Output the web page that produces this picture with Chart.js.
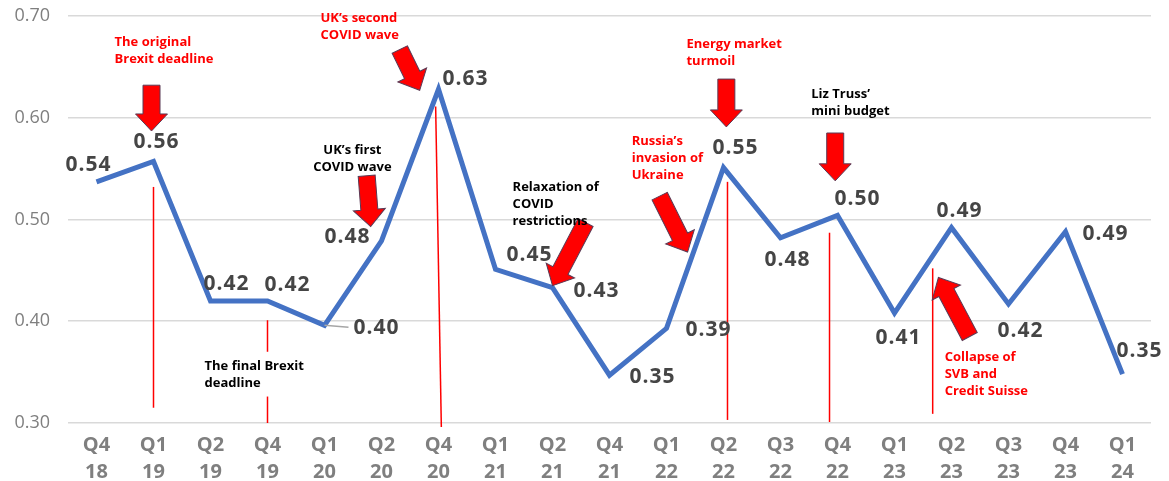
<!DOCTYPE html>
<html>
<head>
<meta charset="utf-8">
<script src="https://cdn.jsdelivr.net/npm/chart.js@4"></script>
<style>
  html, body { margin: 0; padding: 0; background: #fff; }
  #wrap { width: 1169px; height: 481px; }
</style>
</head>
<body>
<div id="wrap"><canvas id="chart" width="1169" height="481"></canvas></div>
<script>
// Quarters on the x axis (two-line labels)
const quarters = [
    ["Q4", "18"], ["Q1", "19"], ["Q2", "19"], ["Q4", "19"], ["Q1", "20"],
    ["Q2", "20"], ["Q4", "20"], ["Q1", "21"], ["Q2", "21"], ["Q4", "21"],
    ["Q1", "22"], ["Q2", "22"], ["Q3", "22"], ["Q4", "22"], ["Q1", "23"],
    ["Q2", "23"], ["Q3", "23"], ["Q4", "23"], ["Q1", "24"]
];

// Series values
const values = [
    0.537, 0.557, 0.420, 0.420, 0.396, 0.479, 0.628, 0.451, 0.433, 0.347,
    0.393, 0.551, 0.482, 0.504, 0.408, 0.492, 0.417, 0.488, 0.348
];

// y axis ticks
const yTicks = [0.30, 0.40, 0.50, 0.60, 0.70];

// label offsets from each point (px)
const labelOffsets = [
    [-8, -17], [3, -19], [16, -17], [20, -16], [52, 3], [-34, -4], [27, -10],
    [34, -14], [44, 3], [43, 2], [42, 2], [12, -20], [7, 22], [20, -16],
    [4, 25], [8, -17], [12, 27], [40, 2], [17, -23]
];

// red vertical marker lines: [x index top, value top, x index bottom, value bottom]
const markerLines = [
    [1, 0.532, 1, 0.315],
    [3, 0.401, 3, 0.370],
    [3, 0.326, 3, 0.300],
    [5.95, 0.611, 6.05, 0.296],
    [11.07, 0.537, 11.07, 0.303],
    [12.86, 0.487, 12.86, 0.301],
    [14.67, 0.452, 14.67, 0.309]
];

// block arrows: [tail index, tail value, tip index, tip value]
const arrows = [
    [0.965, 0.632, 0.965, 0.587],
    [5.32, 0.667, 5.67, 0.627],
    [4.74, 0.543, 4.81, 0.493],
    [8.58, 0.497, 8.0, 0.435],
    [9.88, 0.523, 10.37, 0.468],
    [11.05, 0.638, 11.05, 0.591],
    [12.96, 0.585, 12.96, 0.538],
    [15.32, 0.385, 14.77, 0.443]
];

// annotation notes: [lines, index, value, colour, align]
const notes = [
    [["The original", "Brexit deadline"], 0.316, 0.6745, "#ff0000", "left"],
    [["UK\u2019s second", "COVID wave"], 3.93, 0.698, "#ff0000", "left"],
    [["UK\u2019s first", "COVID wave"], 4.49, 0.5676, "#000000", "center"],
    [["Relaxation of", "COVID", "restrictions"], 7.30, 0.5314, "#000000", "left"],
    [["Russia\u2019s", "invasion of", "Ukraine"], 9.39, 0.5765, "#ff0000", "left"],
    [["Energy market", "turmoil"], 10.35, 0.6725, "#ff0000", "left"],
    [["Liz Truss\u2019", "mini budget"], 12.54, 0.6235, "#000000", "left"],
    [["The final Brexit", "deadline"], 1.895, 0.3559, "#000000", "left"],
    [["Collapse of", "SVB and", "Credit Suisse"], 14.88, 0.3647, "#ff0000", "left"]
];

function drawArrow(ctx, x0, y0, x1, y1) {
    const ang = Math.atan2(y1 - y0, x1 - x0);
    const len = Math.hypot(x1 - x0, y1 - y0);
    const head = 17, shaft = 8.5, wing = 16;
    ctx.save();
    ctx.translate(x0, y0);
    ctx.rotate(ang);
    ctx.beginPath();
    ctx.moveTo(0, -shaft);
    ctx.lineTo(len - head, -shaft);
    ctx.lineTo(len - head, -wing);
    ctx.lineTo(len, 0);
    ctx.lineTo(len - head, wing);
    ctx.lineTo(len - head, shaft);
    ctx.lineTo(0, shaft);
    ctx.closePath();
    ctx.fillStyle = "#ff0000";
    ctx.fill();
    ctx.strokeStyle = "#5a3a55";
    ctx.lineWidth = 1;
    ctx.stroke();
    ctx.restore();
}

const annotationPlugin = {
    id: "annotations",
    afterDatasetsDraw(chart) {
        const ctx = chart.ctx;
        const xs = chart.scales.x, ys = chart.scales.y;
        const px = i => xs.getPixelForValue(i);
        const py = v => ys.getPixelForValue(v);

        // red marker lines
        ctx.save();
        ctx.strokeStyle = "#ff0000";
        ctx.lineWidth = 1.5;
        markerLines.forEach(m => {
            ctx.beginPath();
            ctx.moveTo(px(m[0]), py(m[1]));
            ctx.lineTo(px(m[2]), py(m[3]));
            ctx.stroke();
        });
        ctx.restore();

        // leader line for 0.40
        ctx.save();
        ctx.strokeStyle = "#a6a6a6";
        ctx.lineWidth = 1.5;
        ctx.beginPath();
        ctx.moveTo(px(4), py(values[4]));
        ctx.lineTo(px(4) + 24, py(values[4]) + 2);
        ctx.stroke();
        ctx.restore();

        // arrows
        arrows.forEach(a => drawArrow(ctx, px(a[0]), py(a[1]), px(a[2]), py(a[3])));

        // data labels
        ctx.save();
        ctx.font = "bold 21px 'Open Sans'";
        ctx.letterSpacing = "1px";
        ctx.fillStyle = "#454545";
        ctx.textAlign = "center";
        ctx.textBaseline = "middle";
        values.forEach((v, i) => {
            const o = labelOffsets[i];
            ctx.fillText(v.toFixed(2), px(i) + o[0], py(v) + o[1]);
        });
        ctx.restore();

        // notes
        ctx.save();
        ctx.font = "bold 13px 'Open Sans'";
        ctx.textBaseline = "middle";
        notes.forEach(n => {
            ctx.fillStyle = n[3];
            ctx.textAlign = n[4];
            n[0].forEach((line, k) => {
                ctx.fillText(line, px(n[1]), py(n[2]) + k * 17);
            });
        });
        ctx.restore();
    }
};

new Chart(document.getElementById("chart"), {
    type: "line",
    data: {
        labels: quarters,
        datasets: [{
            data: values,
            borderColor: "#4472C4",
            borderWidth: 5,
            pointRadius: 0,
            tension: 0,
            fill: false
        }]
    },
    options: {
        responsive: false,
        animation: false,
        layout: { padding: { top: 16, right: 18, left: 0, bottom: 0 } },
        plugins: {
            legend: { display: false },
            tooltip: { enabled: false }
        },
        scales: {
            x: {
                offset: true,
                grid: { display: false, drawTicks: false },
                border: { display: false },
                ticks: {
                    color: "#7f7f7f",
                    font: { family: "'Open Sans'", size: 20, weight: "bold", lineHeight: 1.35 },
                    padding: 9,
                    maxRotation: 0,
                    autoSkip: false
                },
                afterFit: s => { s.height = 58; }
            },
            y: {
                min: 0.30,
                max: 0.70,
                afterBuildTicks: s => { s.ticks = yTicks.map(v => ({ value: v })); },
                grid: { color: "#d9d9d9", lineWidth: 1.5, drawTicks: false },
                border: { display: false },
                ticks: {
                    color: "#7f7f7f",
                    font: { family: "'Open Sans'", size: 18 },
                    padding: 18,
                    callback: v => v.toFixed(2)
                },
                afterFit: s => { s.width = 68; s.paddingTop = 0; s.paddingBottom = 0; }
            }
        }
    },
    plugins: [annotationPlugin]
});
</script>
</body>
</html>
